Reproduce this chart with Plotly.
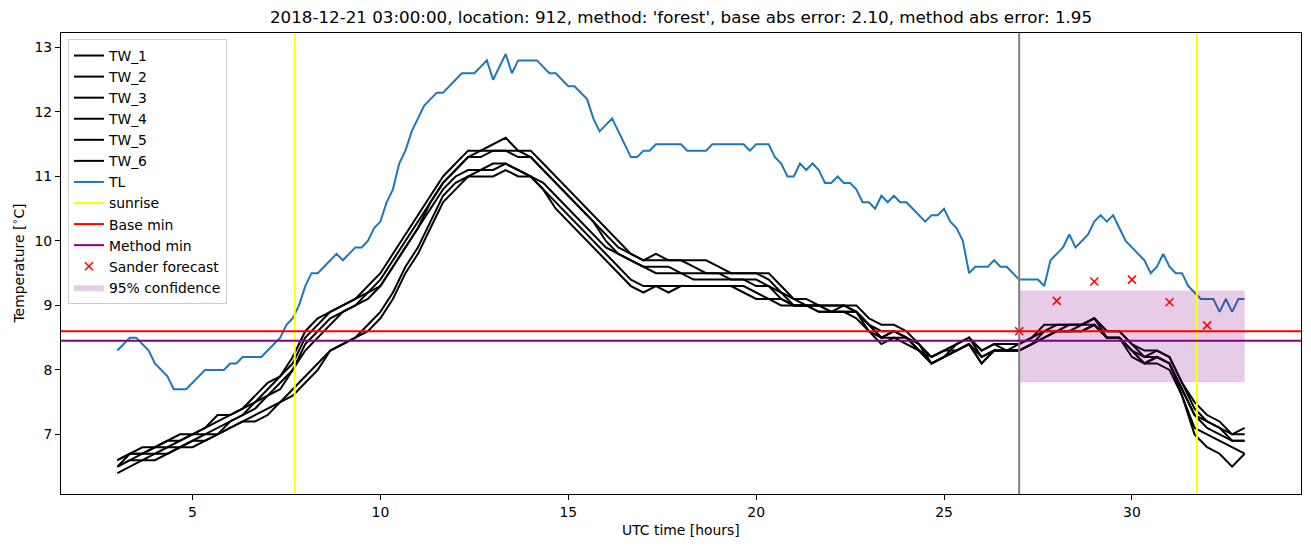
import plotly.graph_objects as go

# ---------------- data ----------------
TL = [
    8.3, 8.4, 8.5, 8.5, 8.4, 8.3,
    8.1, 8.0, 7.9, 7.7, 7.7, 7.7,
    7.8, 7.9, 8.0, 8.0, 8.0, 8.0,
    8.1, 8.1, 8.2, 8.2, 8.2, 8.2,
    8.3, 8.4, 8.5, 8.7, 8.8, 9.0,
    9.3, 9.5, 9.5, 9.6, 9.7, 9.8,
    9.7, 9.8, 9.9, 9.9, 10.0, 10.2,
    10.3, 10.6, 10.8, 11.2, 11.4, 11.7,
    11.9, 12.1, 12.2, 12.3, 12.3, 12.4,
    12.5, 12.6, 12.6, 12.6, 12.7, 12.8,
    12.5, 12.7, 12.9, 12.6, 12.8, 12.8,
    12.8, 12.8, 12.7, 12.6, 12.6, 12.5,
    12.4, 12.4, 12.3, 12.2, 11.9, 11.7,
    11.8, 11.9, 11.7, 11.5, 11.3, 11.3,
    11.4, 11.4, 11.5, 11.5, 11.5, 11.5,
    11.5, 11.4, 11.4, 11.4, 11.4, 11.5,
    11.5, 11.5, 11.5, 11.5, 11.5, 11.4,
    11.5, 11.5, 11.5, 11.3, 11.2, 11.0,
    11.0, 11.2, 11.1, 11.2, 11.1, 10.9,
    10.9, 11.0, 10.9, 10.9, 10.8, 10.6,
    10.6, 10.5, 10.7, 10.6, 10.7, 10.6,
    10.6, 10.5, 10.4, 10.3, 10.4, 10.4,
    10.5, 10.3, 10.2, 10.0, 9.5, 9.6,
    9.6, 9.6, 9.7, 9.6, 9.6, 9.5,
    9.4, 9.4, 9.4, 9.4, 9.3, 9.7,
    9.8, 9.9, 10.1, 9.9, 10.0, 10.1,
    10.3, 10.4, 10.3, 10.4, 10.2, 10.0,
    9.9, 9.8, 9.7, 9.5, 9.6, 9.8,
    9.6, 9.5, 9.5, 9.3, 9.2, 9.1,
    9.1, 9.1, 8.9, 9.1, 8.9, 9.1,
    9.1,
]
TL_START, TL_STEP = 3.0, 1 / 6  # 10-minute samples

TW_1 = [
    6.6, 6.7, 6.8, 6.8, 6.9, 7.0, 7.0, 7.1, 7.3, 7.3, 7.4, 7.6,
    7.8, 7.9, 8.2, 8.6, 8.8, 8.9, 9.0, 9.1, 9.3, 9.5, 9.8, 10.1,
    10.4, 10.7, 11.0, 11.2, 11.4, 11.4, 11.5, 11.6, 11.4, 11.3, 11.1, 10.9,
    10.7, 10.5, 10.3, 10.1, 9.9, 9.8, 9.7, 9.7, 9.7, 9.7, 9.6, 9.5,
    9.5, 9.5, 9.5, 9.5, 9.4, 9.2, 9.1, 9.1, 9.0, 9.0, 9.0, 9.0,
    8.8, 8.7, 8.7, 8.6, 8.4, 8.2, 8.3, 8.4, 8.5, 8.3, 8.4, 8.4,
    8.4, 8.5, 8.7, 8.7, 8.7, 8.7, 8.8, 8.6, 8.6, 8.4, 8.3, 8.3,
    8.2, 7.8, 7.5, 7.3, 7.2, 7.0, 7.1,
]
TW_2 = [
    6.6, 6.7, 6.7, 6.8, 6.9, 6.9, 7.0, 7.1, 7.2, 7.3, 7.4, 7.5,
    7.7, 7.9, 8.1, 8.5, 8.7, 8.9, 9.0, 9.1, 9.2, 9.4, 9.7, 10.0,
    10.3, 10.6, 10.9, 11.1, 11.3, 11.4, 11.4, 11.4, 11.4, 11.4, 11.2, 11.0,
    10.8, 10.6, 10.4, 10.2, 10.0, 9.8, 9.7, 9.8, 9.7, 9.7, 9.7, 9.7,
    9.6, 9.5, 9.5, 9.5, 9.5, 9.3, 9.1, 9.0, 9.0, 9.0, 9.0, 8.9,
    8.7, 8.6, 8.6, 8.5, 8.4, 8.1, 8.2, 8.4, 8.5, 8.2, 8.3, 8.3,
    8.4, 8.5, 8.6, 8.7, 8.7, 8.7, 8.8, 8.6, 8.6, 8.4, 8.2, 8.3,
    8.2, 7.8, 7.4, 7.2, 7.1, 7.0, 7.0,
]
TW_3 = [
    6.5, 6.7, 6.7, 6.8, 6.8, 6.9, 7.0, 7.0, 7.1, 7.2, 7.3, 7.5,
    7.6, 7.8, 8.0, 8.4, 8.6, 8.8, 8.9, 9.0, 9.2, 9.3, 9.6, 9.9,
    10.2, 10.6, 10.9, 11.1, 11.3, 11.3, 11.4, 11.4, 11.3, 11.3, 11.1, 10.9,
    10.7, 10.5, 10.3, 10.0, 9.8, 9.7, 9.6, 9.6, 9.6, 9.5, 9.5, 9.5,
    9.5, 9.4, 9.4, 9.4, 9.3, 9.2, 9.0, 9.0, 9.0, 8.9, 8.9, 8.9,
    8.7, 8.5, 8.6, 8.5, 8.3, 8.2, 8.3, 8.3, 8.4, 8.2, 8.3, 8.3,
    8.3, 8.4, 8.6, 8.6, 8.7, 8.7, 8.8, 8.5, 8.5, 8.3, 8.2, 8.2,
    8.1, 7.7, 7.3, 7.2, 7.1, 6.9, 6.9,
]
TW_4 = [
    6.5, 6.6, 6.7, 6.7, 6.8, 6.8, 6.9, 7.0, 7.0, 7.2, 7.3, 7.4,
    7.6, 7.7, 8.0, 8.3, 8.5, 8.7, 8.9, 9.0, 9.1, 9.3, 9.6, 9.9,
    10.2, 10.5, 10.8, 11.0, 11.1, 11.1, 11.2, 11.2, 11.1, 11.0, 10.9, 10.7,
    10.5, 10.3, 10.1, 9.9, 9.8, 9.7, 9.6, 9.5, 9.5, 9.5, 9.4, 9.4,
    9.4, 9.4, 9.4, 9.3, 9.3, 9.1, 9.0, 9.0, 8.9, 8.9, 8.9, 8.9,
    8.7, 8.5, 8.6, 8.5, 8.3, 8.1, 8.2, 8.3, 8.4, 8.1, 8.3, 8.3,
    8.3, 8.4, 8.5, 8.6, 8.6, 8.7, 8.7, 8.5, 8.5, 8.3, 8.1, 8.2,
    8.1, 7.7, 7.3, 7.1, 7.0, 6.9, 6.9,
]
TW_5 = [
    6.5, 6.6, 6.6, 6.7, 6.7, 6.8, 6.9, 6.9, 7.0, 7.1, 7.2, 7.3,
    7.4, 7.5, 7.7, 7.9, 8.1, 8.3, 8.4, 8.5, 8.7, 8.9, 9.2, 9.6,
    9.9, 10.3, 10.7, 10.9, 11.0, 11.1, 11.1, 11.2, 11.1, 11.0, 10.8, 10.6,
    10.4, 10.2, 10.0, 9.8, 9.6, 9.4, 9.3, 9.3, 9.3, 9.3, 9.3, 9.3,
    9.3, 9.3, 9.3, 9.2, 9.1, 9.1, 9.0, 9.0, 9.0, 8.9, 9.0, 8.9,
    8.6, 8.5, 8.5, 8.5, 8.3, 8.2, 8.3, 8.4, 8.5, 8.3, 8.4, 8.3,
    8.3, 8.4, 8.5, 8.6, 8.6, 8.6, 8.7, 8.5, 8.5, 8.3, 8.1, 8.2,
    8.1, 7.6, 7.1, 7.0, 6.9, 6.8, 6.7,
]
TW_6 = [
    6.4, 6.5, 6.6, 6.6, 6.7, 6.8, 6.8, 6.9, 7.0, 7.1, 7.2, 7.2,
    7.3, 7.5, 7.6, 7.8, 8.0, 8.3, 8.4, 8.5, 8.6, 8.8, 9.1, 9.5,
    9.8, 10.2, 10.6, 10.8, 11.0, 11.0, 11.0, 11.1, 11.0, 11.0, 10.8, 10.5,
    10.3, 10.1, 9.9, 9.7, 9.5, 9.3, 9.2, 9.3, 9.2, 9.3, 9.3, 9.3,
    9.3, 9.3, 9.2, 9.1, 9.1, 9.0, 9.0, 9.0, 8.9, 8.9, 8.9, 8.8,
    8.6, 8.4, 8.5, 8.4, 8.3, 8.1, 8.2, 8.3, 8.4, 8.1, 8.3, 8.3,
    8.3, 8.4, 8.5, 8.6, 8.6, 8.6, 8.7, 8.5, 8.5, 8.2, 8.1, 8.1,
    8.0, 7.6, 7.0, 6.8, 6.7, 6.5, 6.7,
]
TW_START, TW_STEP = 3.0, 1 / 3  # 20-minute samples
TW_SERIES = {"TW_1": TW_1, "TW_2": TW_2, "TW_3": TW_3,
             "TW_4": TW_4, "TW_5": TW_5, "TW_6": TW_6}

sunrise_hours = [7.72, 31.73]
forecast_start = 27.0
base_min = 8.60
method_min = 8.45
sander_hours = [27, 28, 29, 30, 31, 32]
sander_values = [8.60, 9.07, 9.37, 9.40, 9.05, 8.69]
conf_start, conf_end = 27.0, 33.0
conf_low, conf_high = 7.81, 9.23

title = ("2018-12-21 03:00:00, location: 912, method: 'forest', "
         "base abs error: 2.10, method abs error: 1.95")

# ---------------- figure ----------------
FONT = "DejaVu Sans"
LW = 2
fig = go.Figure()

for name, vals in TW_SERIES.items():
    xs = [TW_START + i * TW_STEP for i in range(len(vals))]
    fig.add_trace(go.Scatter(x=xs, y=vals, mode="lines", name=name,
                             line=dict(color="black", width=LW)))

tl_x = [TL_START + i * TL_STEP for i in range(len(TL))]
fig.add_trace(go.Scatter(x=tl_x, y=TL, mode="lines", name="TL",
                         line=dict(color="#1f77b4", width=LW)))

# confidence band
fig.add_trace(go.Scatter(
    x=[conf_start, conf_end, conf_end, conf_start, conf_start],
    y=[conf_low, conf_low, conf_high, conf_high, conf_low],
    mode="lines", fill="toself", fillcolor="rgba(128,0,128,0.2)",
    line=dict(width=0, color="rgba(128,0,128,0)"),
    name="95% confidence", legendrank=2000, hoverinfo="skip"))

# legend-only entries for reference lines
fig.add_trace(go.Scatter(x=[None], y=[None], mode="lines", name="sunrise",
                         line=dict(color="yellow", width=LW), legendrank=1500))
fig.add_trace(go.Scatter(x=[None], y=[None], mode="lines", name="Base min",
                         line=dict(color="red", width=LW), legendrank=1501))
fig.add_trace(go.Scatter(x=[None], y=[None], mode="lines", name="Method min",
                         line=dict(color="purple", width=LW), legendrank=1502))

fig.add_trace(go.Scatter(x=sander_hours, y=sander_values, mode="markers",
                         name="Sander forecast", legendrank=1503,
                         marker=dict(symbol="x-thin", size=8, color="red",
                                     line=dict(width=1.5, color="red"))))

# reference lines as shapes (span full axes)
for h in sunrise_hours:
    fig.add_shape(type="line", xref="x", yref="paper", x0=h, x1=h, y0=0, y1=1,
                  line=dict(color="yellow", width=LW), layer="above")
fig.add_shape(type="line", xref="x", yref="paper", x0=forecast_start,
              x1=forecast_start, y0=0, y1=1,
              line=dict(color="gray", width=LW), layer="above")
fig.add_shape(type="line", xref="paper", yref="y", x0=0, x1=1,
              y0=base_min, y1=base_min, line=dict(color="red", width=LW),
              layer="above")
fig.add_shape(type="line", xref="paper", yref="y", x0=0, x1=1,
              y0=method_min, y1=method_min,
              line=dict(color="purple", width=LW), layer="above")

axis_common = dict(showline=True, linecolor="black", linewidth=1, mirror=True,
                   ticks="outside", ticklen=5, tickwidth=1, tickcolor="black",
                   showgrid=False, zeroline=False,
                   tickfont=dict(family=FONT, size=13.9, color="black"))

fig.update_layout(
    width=1311, height=547,
    margin=dict(l=61, r=10, t=33, b=53),
    paper_bgcolor="white", plot_bgcolor="white",
    font=dict(family=FONT, size=13.9, color="black"),
    title=dict(text=title, x=0.5, xref="paper", xanchor="center",
               y=1 - 17 / 547, yref="container", yanchor="middle",
               font=dict(family=FONT, size=16.7, color="black")),
    xaxis=dict(range=[1.5, 34.5], tickvals=[5, 10, 15, 20, 25, 30],
               **axis_common),
    yaxis=dict(range=[6.075, 13.225], tickvals=[7, 8, 9, 10, 11, 12, 13],
               **axis_common),
    showlegend=True,
    legend=dict(x=0.0056, y=0.987, xanchor="left", yanchor="top",
                bgcolor="rgba(255,255,255,0.8)", bordercolor="#cccccc",
                borderwidth=1, font=dict(family=FONT, size=13.9, color="black"),
                traceorder="normal", itemwidth=30),
    annotations=[
        dict(text="UTC time [hours]", xref="paper", yref="paper", x=0.5, y=0,
             yshift=-36, showarrow=False, yanchor="middle", xanchor="center",
             font=dict(family=FONT, size=13.9, color="black")),
        dict(text="Temperature [<sup>∘</sup>C]", xref="paper", yref="paper",
             x=0, y=0.5, xshift=-43, showarrow=False, textangle=-90,
             xanchor="center", yanchor="middle",
             font=dict(family=FONT, size=13.9, color="black")),
    ],
)

fig.write_html("out.html")
